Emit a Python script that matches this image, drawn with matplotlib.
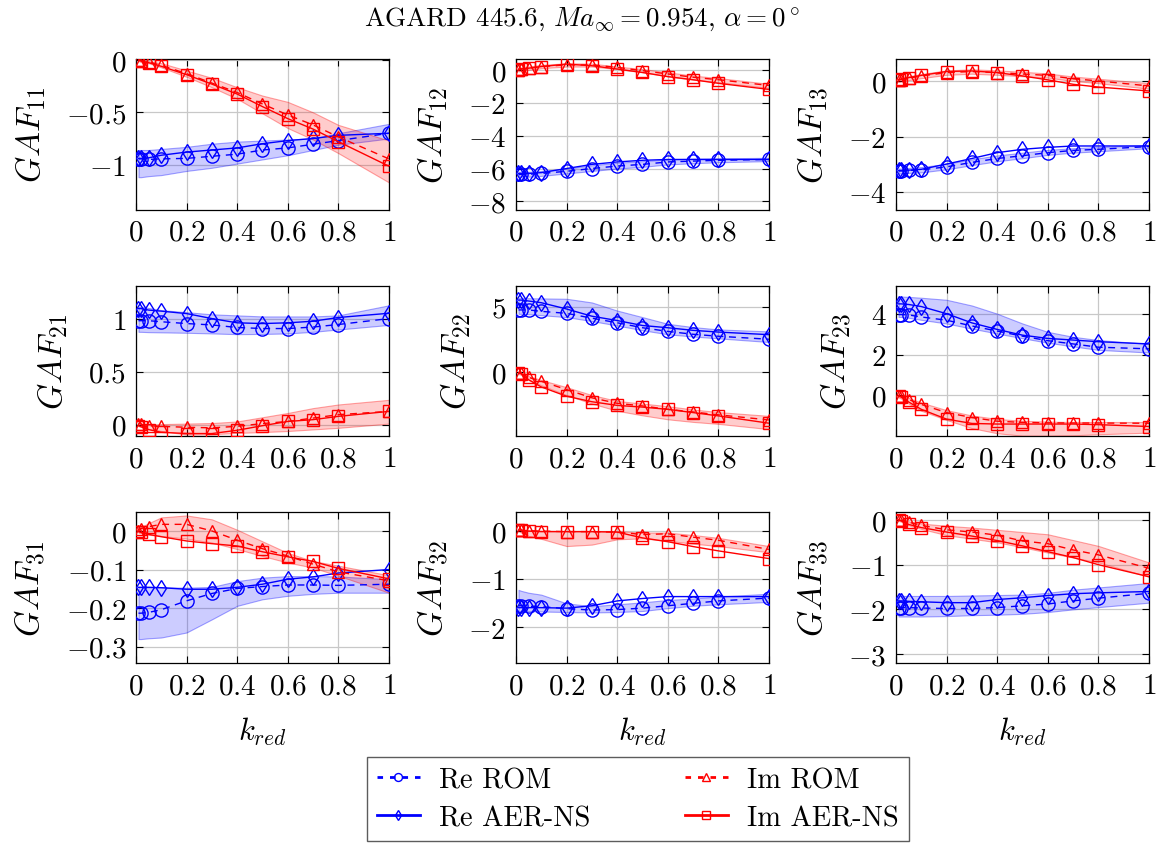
import matplotlib
matplotlib.use("Agg")
import matplotlib.pyplot as plt
from matplotlib.ticker import FuncFormatter

plt.rcParams.update({
    "font.family": ["cmr10", "DejaVu Serif"],
    "mathtext.fontset": "cm",
    "axes.formatter.use_mathtext": True,
    "font.size": 21,
})

# reduced frequencies
k_red = [0.01, 0.02, 0.05, 0.1, 0.2, 0.3, 0.4, 0.5, 0.6, 0.7, 0.8, 1.0]

# GAF11
re_rom_11 = [-0.945, -0.945, -0.95, -0.945, -0.94, -0.92, -0.90, -0.86, -0.84, -0.805, -0.77, -0.70]
re_aer_11 = [-0.94, -0.94, -0.935, -0.91, -0.88, -0.86, -0.84, -0.80, -0.77, -0.75, -0.72, -0.70]
re_hi_11 = [-0.86, -0.86, -0.86, -0.85, -0.83, -0.80, -0.78, -0.77, -0.76, -0.75, -0.70, -0.61]
re_lo_11 = [-1.12, -1.12, -1.11, -1.10, -1.06, -1.03, -0.99, -0.95, -0.91, -0.86, -0.81, -0.75]
im_rom_11 = [0.0, -0.005, -0.02, -0.05, -0.13, -0.22, -0.31, -0.42, -0.525, -0.62, -0.735, -0.945]
im_aer_11 = [0.0, -0.01, -0.025, -0.06, -0.14, -0.23, -0.325, -0.445, -0.56, -0.66, -0.78, -1.015]
im_hi_11 = [0.01, 0.0, -0.01, -0.03, -0.10, -0.17, -0.26, -0.34, -0.40, -0.50, -0.62, -0.77]
im_lo_11 = [-0.01, -0.02, -0.03, -0.07, -0.16, -0.26, -0.37, -0.51, -0.65, -0.76, -0.89, -1.17]

# GAF12
re_rom_12 = [-6.36, -6.36, -6.35, -6.3, -6.17, -6.0, -5.85, -5.75, -5.6, -5.55, -5.5, -5.45]
re_aer_12 = [-6.3, -6.3, -6.3, -6.25, -6.0, -5.75, -5.6, -5.5, -5.45, -5.45, -5.45, -5.45]
re_hi_12 = [-6.2, -6.2, -6.2, -6.15, -6.0, -5.8, -5.65, -5.55, -5.45, -5.4, -5.38, -5.35]
re_lo_12 = [-6.5, -6.5, -6.5, -6.45, -6.3, -6.15, -6.0, -5.9, -5.75, -5.68, -5.62, -5.55]
im_rom_12 = [0.0, 0.05, 0.1, 0.2, 0.3, 0.3, 0.15, -0.05, -0.25, -0.45, -0.6, -0.95]
im_aer_12 = [0.0, 0.05, 0.1, 0.2, 0.35, 0.25, 0.05, -0.16, -0.41, -0.6, -0.82, -1.19]
im_hi_12 = [0.1, 0.15, 0.2, 0.3, 0.4, 0.38, 0.2, 0.05, -0.15, -0.35, -0.5, -0.85]
im_lo_12 = [-0.1, -0.05, 0.0, 0.1, 0.2, 0.2, 0.05, -0.15, -0.4, -0.6, -0.75, -1.1]

# GAF13
re_rom_13 = [-3.24, -3.24, -3.22, -3.2, -3.09, -2.93, -2.79, -2.69, -2.58, -2.5, -2.46, -2.36]
re_aer_13 = [-3.22, -3.22, -3.21, -3.18, -2.99, -2.79, -2.58, -2.46, -2.39, -2.34, -2.34, -2.34]
re_hi_13 = [-3.15, -3.15, -3.13, -3.1, -2.98, -2.82, -2.68, -2.58, -2.48, -2.42, -2.38, -2.3]
re_lo_13 = [-3.33, -3.33, -3.31, -3.29, -3.18, -3.03, -2.89, -2.78, -2.66, -2.58, -2.53, -2.42]
im_rom_13 = [0.03, 0.05, 0.1, 0.18, 0.3, 0.34, 0.3, 0.25, 0.2, 0.08, 0.0, -0.18]
im_aer_13 = [0.04, 0.06, 0.12, 0.2, 0.34, 0.36, 0.3, 0.18, 0.04, -0.12, -0.22, -0.36]
im_hi_13 = [0.1, 0.12, 0.17, 0.25, 0.38, 0.42, 0.38, 0.33, 0.27, 0.16, 0.08, -0.08]
im_lo_13 = [-0.04, -0.02, 0.03, 0.1, 0.22, 0.26, 0.22, 0.17, 0.12, 0.0, -0.08, -0.28]

# GAF21
re_rom_21 = [0.98, 0.98, 0.98, 0.97, 0.953, 0.94, 0.916, 0.906, 0.906, 0.92, 0.944, 1.0]
re_aer_21 = [1.094, 1.094, 1.08, 1.07, 1.047, 1.0, 0.96, 0.953, 0.96, 0.975, 1.01, 1.05]
re_hi_21 = [1.11, 1.11, 1.10, 1.08, 1.06, 1.04, 1.03, 1.02, 1.02, 1.02, 1.03, 1.125]
re_lo_21 = [0.875, 0.875, 0.872, 0.87, 0.866, 0.86, 0.853, 0.855, 0.86, 0.875, 0.897, 0.94]
im_rom_21 = [0.01, 0.005, -0.01, -0.016, -0.025, -0.03, -0.016, 0.01, 0.03, 0.062, 0.094, 0.125]
im_aer_21 = [-0.01, -0.02, -0.047, -0.072, -0.084, -0.084, -0.053, -0.01, 0.03, 0.047, 0.078, 0.125]
im_hi_21 = [0.0, 0.0, 0.0, 0.005, 0.01, 0.015, 0.03, 0.07, 0.11, 0.156, 0.19, 0.234]
im_lo_21 = [-0.016, -0.02, -0.04, -0.06, -0.094, -0.09, -0.078, -0.07, -0.06, -0.045, -0.03, 0.01]

# GAF22
re_rom_22 = [4.75, 4.75, 4.75, 4.64, 4.49, 4.12, 3.77, 3.39, 3.11, 2.89, 2.74, 2.51]
re_aer_22 = [5.5, 5.5, 5.43, 5.3, 4.82, 4.27, 3.94, 3.56, 3.39, 3.19, 3.06, 2.86]
re_hi_22 = [5.65, 5.65, 5.64, 5.63, 5.6, 5.32, 4.7, 4.2, 3.69, 3.44, 3.26, 3.11]
re_lo_22 = [4.45, 4.45, 4.42, 4.35, 4.2, 3.9, 3.56, 3.2, 2.89, 2.72, 2.58, 2.3]
im_rom_22 = [-0.05, -0.1, -0.4, -0.7, -1.33, -1.96, -2.38, -2.58, -2.84, -3.04, -3.26, -3.65]
im_aer_22 = [-0.08, -0.12, -0.58, -1.13, -1.84, -2.26, -2.54, -2.67, -2.84, -3.09, -3.34, -3.9]
im_hi_22 = [0.0, -0.05, -0.3, -0.6, -1.15, -1.75, -2.2, -2.4, -2.6, -2.85, -3.05, -3.34]
im_lo_22 = [-0.15, -0.2, -0.6, -1.0, -1.75, -2.4, -2.95, -3.3, -3.6, -3.8, -3.95, -4.35]

# GAF23
re_rom_23 = [3.96, 3.96, 3.94, 3.84, 3.68, 3.4, 3.15, 2.9, 2.68, 2.52, 2.36, 2.28]
re_aer_23 = [4.48, 4.48, 4.45, 4.35, 4.0, 3.55, 3.23, 2.95, 2.79, 2.71, 2.63, 2.52]
re_hi_23 = [4.84, 4.84, 4.82, 4.78, 4.68, 4.4, 4.0, 3.52, 3.11, 2.87, 2.71, 2.52]
re_lo_23 = [3.84, 3.84, 3.8, 3.7, 3.52, 3.27, 3.03, 2.8, 2.58, 2.4, 2.23, 2.1]
im_rom_23 = [-0.02, -0.05, -0.2, -0.44, -0.84, -1.08, -1.26, -1.32, -1.34, -1.35, -1.35, -1.36]
im_aer_23 = [-0.03, -0.08, -0.32, -0.68, -1.16, -1.37, -1.4, -1.4, -1.4, -1.4, -1.43, -1.52]
im_hi_23 = [0.05, 0.02, -0.12, -0.35, -0.72, -0.98, -1.15, -1.24, -1.28, -1.3, -1.3, -1.3]
im_lo_23 = [-0.1, -0.15, -0.4, -0.75, -1.2, -1.6, -1.85, -1.97, -1.97, -1.95, -1.9, -1.82]

# GAF31
re_rom_31 = [-0.213, -0.213, -0.211, -0.204, -0.181, -0.162, -0.149, -0.144, -0.14, -0.14, -0.141, -0.138]
re_aer_31 = [-0.146, -0.146, -0.146, -0.147, -0.151, -0.151, -0.146, -0.138, -0.125, -0.119, -0.109, -0.1]
re_hi_31 = [-0.146, -0.146, -0.146, -0.146, -0.147, -0.145, -0.13, -0.121, -0.117, -0.117, -0.118, -0.125]
re_lo_31 = [-0.28, -0.28, -0.278, -0.276, -0.263, -0.229, -0.194, -0.177, -0.168, -0.163, -0.16, -0.16]
im_rom_31 = [0.0, 0.006, 0.011, 0.017, 0.017, 0.0, -0.024, -0.046, -0.065, -0.086, -0.106, -0.129]
im_aer_31 = [-0.002, -0.004, -0.009, -0.015, -0.026, -0.033, -0.039, -0.054, -0.067, -0.079, -0.097, -0.124]
im_hi_31 = [0.002, 0.01, 0.02, 0.035, 0.04, 0.03, 0.003, -0.027, -0.057, -0.078, -0.09, -0.115]
im_lo_31 = [-0.005, -0.006, -0.01, -0.013, -0.02, -0.03, -0.047, -0.065, -0.082, -0.095, -0.116, -0.16]

# GAF32
re_rom_32 = [-1.55, -1.55, -1.56, -1.57, -1.61, -1.64, -1.63, -1.6, -1.55, -1.5, -1.45, -1.39]
re_aer_32 = [-1.59, -1.59, -1.59, -1.59, -1.6, -1.55, -1.45, -1.4, -1.36, -1.36, -1.36, -1.36]
re_hi_32 = [-1.22, -1.24, -1.28, -1.32, -1.5, -1.56, -1.52, -1.48, -1.43, -1.4, -1.36, -1.3]
re_lo_32 = [-1.66, -1.66, -1.66, -1.67, -1.68, -1.69, -1.68, -1.66, -1.6, -1.55, -1.52, -1.47]
im_rom_32 = [0.02, 0.02, 0.01, 0.0, -0.01, -0.01, -0.02, -0.07, -0.055, -0.125, -0.19, -0.38]
im_aer_32 = [0.02, 0.02, 0.0, -0.01, -0.01, -0.01, -0.02, -0.14, -0.22, -0.32, -0.41, -0.57]
im_hi_32 = [0.03, 0.03, 0.02, 0.01, 0.0, 0.0, 0.0, -0.03, -0.03, -0.08, -0.14, -0.31]
im_lo_32 = [0.0, -0.03, -0.1, -0.16, -0.31, -0.28, -0.17, -0.15, -0.2, -0.26, -0.31, -0.44]

# GAF33
re_rom_33 = [-1.96, -1.96, -1.96, -1.97, -1.98, -1.98, -1.96, -1.92, -1.88, -1.81, -1.75, -1.64]
re_aer_33 = [-1.81, -1.81, -1.82, -1.83, -1.85, -1.85, -1.78, -1.74, -1.69, -1.65, -1.63, -1.6]
re_hi_33 = [-1.7, -1.7, -1.7, -1.7, -1.7, -1.69, -1.68, -1.67, -1.63, -1.56, -1.51, -1.41]
re_lo_33 = [-2.16, -2.16, -2.16, -2.16, -2.15, -2.13, -2.12, -2.1, -2.06, -2.0, -1.95, -1.85]
im_rom_33 = [0.0, -0.01, -0.05, -0.12, -0.22, -0.27, -0.34, -0.47, -0.53, -0.67, -0.78, -1.08]
im_aer_33 = [0.0, -0.02, -0.1, -0.17, -0.27, -0.36, -0.46, -0.58, -0.71, -0.84, -1.0, -1.27]
im_hi_33 = [0.02, 0.0, -0.03, -0.08, -0.13, -0.17, -0.22, -0.27, -0.32, -0.45, -0.58, -0.95]
im_lo_33 = [-0.02, -0.04, -0.12, -0.2, -0.34, -0.42, -0.5, -0.61, -0.73, -0.84, -0.95, -1.27]

panels = {
    "11": (re_rom_11, re_aer_11, re_hi_11, re_lo_11, im_rom_11, im_aer_11, im_hi_11, im_lo_11),
    "12": (re_rom_12, re_aer_12, re_hi_12, re_lo_12, im_rom_12, im_aer_12, im_hi_12, im_lo_12),
    "13": (re_rom_13, re_aer_13, re_hi_13, re_lo_13, im_rom_13, im_aer_13, im_hi_13, im_lo_13),
    "21": (re_rom_21, re_aer_21, re_hi_21, re_lo_21, im_rom_21, im_aer_21, im_hi_21, im_lo_21),
    "22": (re_rom_22, re_aer_22, re_hi_22, re_lo_22, im_rom_22, im_aer_22, im_hi_22, im_lo_22),
    "23": (re_rom_23, re_aer_23, re_hi_23, re_lo_23, im_rom_23, im_aer_23, im_hi_23, im_lo_23),
    "31": (re_rom_31, re_aer_31, re_hi_31, re_lo_31, im_rom_31, im_aer_31, im_hi_31, im_lo_31),
    "32": (re_rom_32, re_aer_32, re_hi_32, re_lo_32, im_rom_32, im_aer_32, im_hi_32, im_lo_32),
    "33": (re_rom_33, re_aer_33, re_hi_33, re_lo_33, im_rom_33, im_aer_33, im_hi_33, im_lo_33),
}

y_limits = {
    "11": (-1.43, 0.01), "12": (-8.5, 0.66), "13": (-4.63, 0.79),
    "21": (-0.11, 1.31), "22": (-4.9, 6.6), "23": (-2.0, 5.37),
    "31": (-0.342, 0.048), "32": (-2.74, 0.39), "33": (-3.2, 0.17),
}
y_ticks = {
    "11": [-1, -0.5, 0], "12": [-8, -6, -4, -2, 0], "13": [-4, -2, 0],
    "21": [0, 0.5, 1], "22": [0, 5], "23": [0, 2, 4],
    "31": [-0.3, -0.2, -0.1, 0], "32": [-2, -1, 0], "33": [-3, -2, -1, 0],
}
x_ticks = [0, 0.2, 0.4, 0.6, 0.8, 1]

fmt = FuncFormatter(lambda v, pos: "$%g$" % round(v, 6))
dash = (0, (5, 4))

fig, axes = plt.subplots(3, 3, figsize=(11.64, 8.45), dpi=100)
fig.subplots_adjust(left=0.1168, right=0.9871, top=0.929, bottom=0.2142,
                    wspace=0.502, hspace=0.505)

for ax, key in zip(axes.flat, panels):
    re_rom, re_aer, re_hi, re_lo, im_rom, im_aer, im_hi, im_lo = panels[key]
    # uncertainty bands behind the curves
    ax.fill_between(k_red, re_lo, re_hi, facecolor=(0, 0, 1, 0.2),
                    edgecolor=(0, 0, 1, 0.35), linewidth=0.8, zorder=2)
    ax.fill_between(k_red, im_lo, im_hi, facecolor=(1, 0, 0, 0.2),
                    edgecolor=(1, 0, 0, 0.35), linewidth=0.8, zorder=2)
    ax.plot(k_red, re_rom, color="blue", linestyle=dash, linewidth=1,
            marker="o", markersize=9.5, mfc="none", mew=1, label="Re ROM", zorder=3)
    ax.plot(k_red, re_aer, color="blue", linestyle="-", linewidth=1,
            marker="d", markersize=8.5, mfc="none", mew=1, label="Re AER-NS", zorder=3)
    ax.plot(k_red, im_rom, color="red", linestyle=dash, linewidth=1,
            marker="^", markersize=8.5, mfc="none", mew=1, label="Im ROM", zorder=3)
    ax.plot(k_red, im_aer, color="red", linestyle="-", linewidth=1,
            marker="s", markersize=8.5, mfc="none", mew=1, label="Im AER-NS", zorder=3)

    ax.set_xlim(0, 1)
    ax.set_ylim(*y_limits[key])
    ax.set_xticks(x_ticks)
    ax.set_yticks(y_ticks[key])
    ax.xaxis.set_major_formatter(fmt)
    ax.yaxis.set_major_formatter(fmt)
    ax.grid(True, color="#c8c8c8", linewidth=0.9, zorder=0)
    ax.set_axisbelow(True)
    ax.tick_params(direction="in", top=True, right=True, length=5, width=0.8,
                   labelsize=21, pad=7)
    for sp in ax.spines.values():
        sp.set_linewidth(0.9)
    ax.set_ylabel(r"$GAF_{%s}$" % key, fontsize=24, labelpad=13)

for ax in axes[2]:
    ax.set_xlabel(r"$k_{red}$", fontsize=22, labelpad=11)

fig.text(0.5, 1 - 19 / 845, r"AGARD 445.6, $Ma_\infty = 0.954$, $\alpha = 0^\circ$",
         ha="center", va="center", fontsize=19.5)

h, l = axes[0, 0].get_legend_handles_labels()
leg = fig.legend(h, l, ncol=2, loc="center", bbox_to_anchor=(638 / 1164, 1 - 800 / 845),
                 fontsize=20.5, frameon=True, fancybox=False, edgecolor="#333333",
                 handlelength=1.5, handletextpad=0.7, columnspacing=3.3,
                 labelspacing=0.42, markerscale=0.6, borderpad=0.35)
leg.get_frame().set_linewidth(1.0)
for line in leg.get_lines():
    line.set_linewidth(2)
    if line.get_linestyle() != "-":
        line.set_dashes((2, 2.5))

fig.savefig("out.png", dpi=100)
